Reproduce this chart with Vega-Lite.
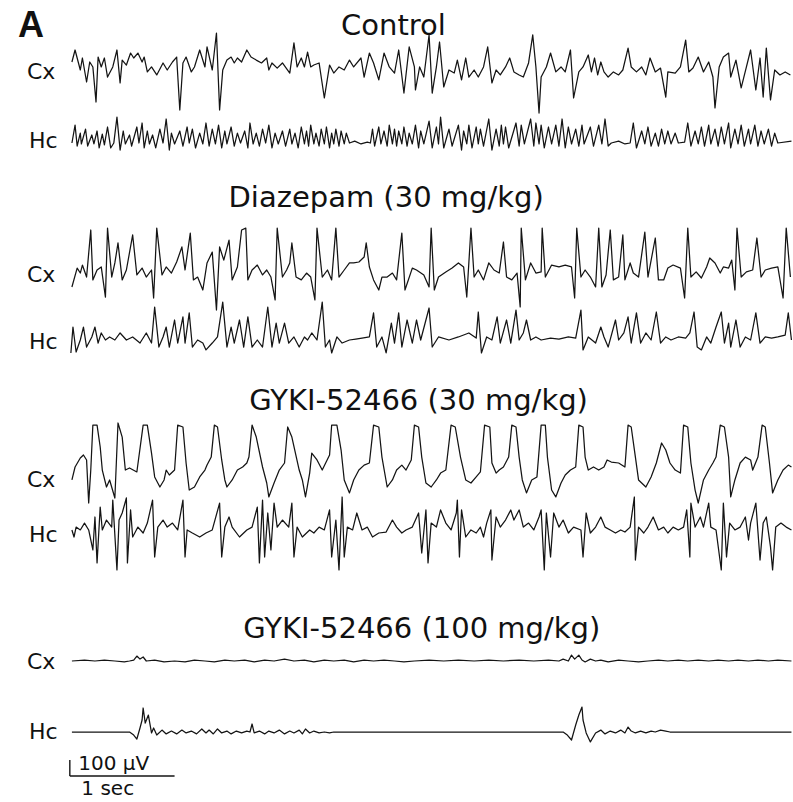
{
  "$schema": "https://vega.github.io/schema/vega-lite/v6.json",
  "width": 793,
  "height": 802,
  "autosize": {"type": "fit", "contains": "padding"},
  "padding": 0,
  "background": "white",
  "config": {
    "view": {"stroke": null},
    "line": {"color": "#141414", "strokeWidth": 1.25, "strokeJoin": "round", "clip": false},
    "text": {"font": "DejaVu Sans", "color": "#111111"},
    "rule": {"color": "#141414", "strokeWidth": 1.4}
  },
  "datasets": {
    "control_cx": [
      {"t":0.02,"v":50},{"t":0.05,"v":125},{"t":0.1,"v":0},{"t":0.12,"v":75},{"t":0.16,"v":-75},{"t":0.19,"v":50},{"t":0.22,"v":19},{"t":0.25,"v":-200},{"t":0.27,"v":81},{"t":0.3,"v":19},
      {"t":0.33,"v":75},{"t":0.36,"v":-44},{"t":0.41,"v":19},{"t":0.45,"v":125},{"t":0.48,"v":-81},{"t":0.5,"v":62},{"t":0.54,"v":31},{"t":0.58,"v":106},{"t":0.61,"v":75},{"t":0.65,"v":106},
      {"t":0.69,"v":50},{"t":0.71,"v":81},{"t":0.74,"v":-12},{"t":0.78,"v":19},{"t":0.83,"v":-31},{"t":0.89,"v":44},{"t":0.93,"v":0},{"t":0.98,"v":50},{"t":1.02,"v":81},{"t":1.05,"v":-250},
      {"t":1.08,"v":44},{"t":1.11,"v":81},{"t":1.16,"v":-12},{"t":1.19,"v":19},{"t":1.24,"v":125},{"t":1.29,"v":19},{"t":1.31,"v":144},{"t":1.36,"v":0},{"t":1.4,"v":231},{"t":1.43,"v":-250},
      {"t":1.46,"v":0},{"t":1.5,"v":62},{"t":1.54,"v":81},{"t":1.57,"v":44},{"t":1.6,"v":75},{"t":1.64,"v":50},{"t":1.69,"v":125},{"t":1.73,"v":81},{"t":1.78,"v":62},{"t":1.83,"v":44},
      {"t":1.88,"v":75},{"t":1.9,"v":0},{"t":1.93,"v":44},{"t":1.98,"v":12},{"t":2.03,"v":44},{"t":2.1,"v":-19},{"t":2.14,"v":169},{"t":2.17,"v":19},{"t":2.21,"v":75},{"t":2.24,"v":19},
      {"t":2.27,"v":112},{"t":2.3,"v":19},{"t":2.33,"v":31},{"t":2.38,"v":44},{"t":2.43,"v":-175},{"t":2.48,"v":31},{"t":2.52,"v":-19},{"t":2.57,"v":19},{"t":2.62,"v":0},{"t":2.67,"v":62},
      {"t":2.71,"v":19},{"t":2.78,"v":75},{"t":2.81,"v":-44},{"t":2.86,"v":106},{"t":2.9,"v":44},{"t":2.95,"v":-62},{"t":3.0,"v":106},{"t":3.05,"v":19},{"t":3.1,"v":-19},{"t":3.14,"v":125},
      {"t":3.19,"v":-144},{"t":3.24,"v":144},{"t":3.29,"v":19},{"t":3.3,"v":-125},{"t":3.34,"v":19},{"t":3.38,"v":-44},{"t":3.43,"v":219},{"t":3.46,"v":-144},{"t":3.5,"v":19},{"t":3.53,"v":175},
      {"t":3.57,"v":-106},{"t":3.62,"v":0},{"t":3.67,"v":-19},{"t":3.7,"v":62},{"t":3.74,"v":-62},{"t":3.78,"v":75},{"t":3.81,"v":-44},{"t":3.86,"v":0},{"t":3.9,"v":-44},{"t":3.95,"v":19},
      {"t":3.99,"v":144},{"t":4.03,"v":-81},{"t":4.07,"v":0},{"t":4.11,"v":-31},{"t":4.16,"v":19},{"t":4.2,"v":75},{"t":4.24,"v":-12},{"t":4.29,"v":-31},{"t":4.33,"v":-44},{"t":4.38,"v":44},
      {"t":4.42,"v":219},{"t":4.45,"v":19},{"t":4.48,"v":-269},{"t":4.5,"v":-44},{"t":4.55,"v":19},{"t":4.59,"v":106},{"t":4.64,"v":-12},{"t":4.69,"v":19},{"t":4.73,"v":-12},{"t":4.78,"v":125},
      {"t":4.81,"v":-175},{"t":4.86,"v":-12},{"t":4.9,"v":19},{"t":4.95,"v":94},{"t":4.98,"v":-12},{"t":5.01,"v":75},{"t":5.04,"v":-31},{"t":5.07,"v":50},{"t":5.1,"v":-12},{"t":5.14,"v":-44},
      {"t":5.19,"v":-12},{"t":5.24,"v":-31},{"t":5.28,"v":0},{"t":5.33,"v":137},{"t":5.36,"v":19},{"t":5.41,"v":-12},{"t":5.46,"v":19},{"t":5.5,"v":-31},{"t":5.54,"v":75},{"t":5.59,"v":-12},
      {"t":5.64,"v":12},{"t":5.69,"v":-169},{"t":5.71,"v":-12},{"t":5.78,"v":-19},{"t":5.83,"v":19},{"t":5.88,"v":187},{"t":5.91,"v":-12},{"t":5.95,"v":12},{"t":6.0,"v":81},{"t":6.05,"v":-12},
      {"t":6.1,"v":50},{"t":6.14,"v":-44},{"t":6.16,"v":-237},{"t":6.2,"v":19},{"t":6.24,"v":81},{"t":6.29,"v":106},{"t":6.31,"v":-44},{"t":6.36,"v":62},{"t":6.41,"v":-112},{"t":6.46,"v":19},
      {"t":6.5,"v":125},{"t":6.55,"v":-125},{"t":6.59,"v":75},{"t":6.62,"v":-169},{"t":6.65,"v":137},{"t":6.69,"v":-187},{"t":6.73,"v":0},{"t":6.78,"v":-31},{"t":6.83,"v":-12},{"t":6.88,"v":-31}
    ],
    "control_hc": [
      {"t":0.02,"v":0},{"t":0.05,"v":112},{"t":0.07,"v":-19},{"t":0.1,"v":62},{"t":0.11,"v":-6},{"t":0.15,"v":87},{"t":0.17,"v":-19},{"t":0.21,"v":50},{"t":0.23,"v":-6},{"t":0.26,"v":75},
      {"t":0.28,"v":-31},{"t":0.31,"v":56},{"t":0.33,"v":-12},{"t":0.36,"v":100},{"t":0.39,"v":-31},{"t":0.42,"v":0},{"t":0.45,"v":162},{"t":0.48,"v":-44},{"t":0.51,"v":75},{"t":0.53,"v":-6},
      {"t":0.57,"v":50},{"t":0.59,"v":-19},{"t":0.64,"v":100},{"t":0.66,"v":0},{"t":0.69,"v":125},{"t":0.71,"v":-31},{"t":0.74,"v":75},{"t":0.76,"v":-6},{"t":0.79,"v":50},{"t":0.82,"v":-31},
      {"t":0.86,"v":87},{"t":0.89,"v":0},{"t":0.92,"v":150},{"t":0.95,"v":-44},{"t":0.97,"v":62},{"t":1.0,"v":-6},{"t":1.05,"v":75},{"t":1.08,"v":-19},{"t":1.12,"v":100},{"t":1.14,"v":0},
      {"t":1.17,"v":87},{"t":1.2,"v":-31},{"t":1.24,"v":62},{"t":1.27,"v":-6},{"t":1.3,"v":125},{"t":1.33,"v":-19},{"t":1.36,"v":87},{"t":1.39,"v":-6},{"t":1.42,"v":112},{"t":1.45,"v":-31},
      {"t":1.48,"v":75},{"t":1.5,"v":-6},{"t":1.54,"v":100},{"t":1.57,"v":-19},{"t":1.6,"v":62},{"t":1.63,"v":0},{"t":1.67,"v":75},{"t":1.7,"v":-31},{"t":1.72,"v":125},{"t":1.75,"v":-6},
      {"t":1.78,"v":62},{"t":1.81,"v":-19},{"t":1.84,"v":87},{"t":1.87,"v":0},{"t":1.9,"v":112},{"t":1.93,"v":-31},{"t":1.96,"v":62},{"t":1.99,"v":-6},{"t":2.03,"v":75},{"t":2.06,"v":-19},
      {"t":2.1,"v":87},{"t":2.12,"v":-6},{"t":2.15,"v":62},{"t":2.18,"v":-31},{"t":2.21,"v":100},{"t":2.24,"v":-6},{"t":2.26,"v":75},{"t":2.28,"v":-19},{"t":2.3,"v":112},{"t":2.33,"v":-6},
      {"t":2.35,"v":62},{"t":2.38,"v":-19},{"t":2.4,"v":87},{"t":2.43,"v":-6},{"t":2.45,"v":100},{"t":2.48,"v":-31},{"t":2.5,"v":62},{"t":2.52,"v":-6},{"t":2.54,"v":87},{"t":2.57,"v":-19},
      {"t":2.59,"v":75},{"t":2.62,"v":-6},{"t":2.64,"v":62},{"t":2.67,"v":0},{"t":2.72,"v":12},{"t":2.78,"v":-6},{"t":2.84,"v":6},{"t":2.87,"v":0},{"t":2.89,"v":87},{"t":2.91,"v":-19},
      {"t":2.95,"v":100},{"t":2.97,"v":-6},{"t":3.0,"v":75},{"t":3.03,"v":-19},{"t":3.05,"v":112},{"t":3.08,"v":-6},{"t":3.1,"v":87},{"t":3.12,"v":-19},{"t":3.14,"v":75},{"t":3.17,"v":-6},
      {"t":3.19,"v":100},{"t":3.22,"v":-19},{"t":3.24,"v":62},{"t":3.27,"v":-6},{"t":3.3,"v":112},{"t":3.33,"v":-31},{"t":3.35,"v":75},{"t":3.38,"v":-6},{"t":3.43,"v":137},{"t":3.46,"v":-31},
      {"t":3.5,"v":100},{"t":3.52,"v":-6},{"t":3.54,"v":162},{"t":3.57,"v":-31},{"t":3.62,"v":87},{"t":3.65,"v":-19},{"t":3.71,"v":112},{"t":3.74,"v":-44},{"t":3.76,"v":75},{"t":3.79,"v":-6},
      {"t":3.81,"v":112},{"t":3.84,"v":-31},{"t":3.88,"v":100},{"t":3.9,"v":-6},{"t":3.92,"v":87},{"t":3.95,"v":-19},{"t":4.0,"v":150},{"t":4.03,"v":-44},{"t":4.07,"v":87},{"t":4.1,"v":-19},
      {"t":4.12,"v":112},{"t":4.14,"v":-6},{"t":4.16,"v":100},{"t":4.19,"v":-31},{"t":4.26,"v":125},{"t":4.29,"v":-19},{"t":4.31,"v":112},{"t":4.34,"v":-6},{"t":4.4,"v":150},{"t":4.43,"v":-19},
      {"t":4.45,"v":125},{"t":4.48,"v":-6},{"t":4.5,"v":112},{"t":4.53,"v":-31},{"t":4.57,"v":100},{"t":4.6,"v":-6},{"t":4.64,"v":112},{"t":4.67,"v":-19},{"t":4.7,"v":150},{"t":4.73,"v":-31},
      {"t":4.76,"v":100},{"t":4.79,"v":-6},{"t":4.83,"v":87},{"t":4.86,"v":-19},{"t":4.89,"v":112},{"t":4.91,"v":-6},{"t":4.97,"v":100},{"t":5.0,"v":-19},{"t":5.05,"v":112},{"t":5.08,"v":-6},
      {"t":5.11,"v":150},{"t":5.14,"v":-19},{"t":5.17,"v":0},{"t":5.24,"v":12},{"t":5.3,"v":-6},{"t":5.35,"v":0},{"t":5.38,"v":125},{"t":5.41,"v":-31},{"t":5.46,"v":75},{"t":5.49,"v":-6},
      {"t":5.52,"v":100},{"t":5.55,"v":-19},{"t":5.59,"v":62},{"t":5.62,"v":-19},{"t":5.65,"v":87},{"t":5.68,"v":-6},{"t":5.71,"v":75},{"t":5.74,"v":-6},{"t":5.78,"v":62},{"t":5.81,"v":0},
      {"t":5.87,"v":6},{"t":5.9,"v":125},{"t":5.93,"v":-19},{"t":5.97,"v":75},{"t":6.0,"v":-6},{"t":6.03,"v":100},{"t":6.06,"v":-19},{"t":6.1,"v":112},{"t":6.12,"v":-6},{"t":6.16,"v":87},
      {"t":6.19,"v":-19},{"t":6.22,"v":100},{"t":6.25,"v":-6},{"t":6.29,"v":125},{"t":6.31,"v":-31},{"t":6.35,"v":87},{"t":6.38,"v":-6},{"t":6.41,"v":112},{"t":6.44,"v":-19},{"t":6.48,"v":87},
      {"t":6.5,"v":-6},{"t":6.54,"v":112},{"t":6.57,"v":-19},{"t":6.6,"v":75},{"t":6.63,"v":-6},{"t":6.67,"v":87},{"t":6.7,"v":-19},{"t":6.73,"v":62},{"t":6.76,"v":0},{"t":6.89,"v":12}
    ],
    "diazepam_cx": [
      {"t":0.02,"v":-106},{"t":0.07,"v":12},{"t":0.1,"v":-19},{"t":0.12,"v":31},{"t":0.16,"v":-44},{"t":0.2,"v":250},{"t":0.22,"v":-62},{"t":0.26,"v":0},{"t":0.3,"v":19},{"t":0.34,"v":-169},
      {"t":0.36,"v":262},{"t":0.4,"v":-44},{"t":0.43,"v":44},{"t":0.46,"v":169},{"t":0.5,"v":-62},{"t":0.54,"v":0},{"t":0.6,"v":219},{"t":0.64,"v":-31},{"t":0.69,"v":12},{"t":0.73,"v":-44},
      {"t":0.78,"v":0},{"t":0.8,"v":-175},{"t":0.83,"v":262},{"t":0.88,"v":-31},{"t":0.92,"v":19},{"t":0.97,"v":-19},{"t":1.02,"v":50},{"t":1.07,"v":144},{"t":1.1,"v":0},{"t":1.15,"v":231},
      {"t":1.18,"v":-62},{"t":1.22,"v":-44},{"t":1.27,"v":-125},{"t":1.31,"v":44},{"t":1.36,"v":112},{"t":1.4,"v":-250},{"t":1.43,"v":144},{"t":1.47,"v":62},{"t":1.52,"v":187},{"t":1.55,"v":-62},
      {"t":1.6,"v":19},{"t":1.64,"v":250},{"t":1.68,"v":262},{"t":1.7,"v":-62},{"t":1.74,"v":0},{"t":1.79,"v":31},{"t":1.84,"v":-31},{"t":1.88,"v":0},{"t":1.92,"v":-44},{"t":1.96,"v":-187},
      {"t":1.98,"v":262},{"t":2.03,"v":-44},{"t":2.07,"v":0},{"t":2.1,"v":44},{"t":2.12,"v":169},{"t":2.16,"v":-44},{"t":2.21,"v":-62},{"t":2.26,"v":-19},{"t":2.3,"v":-44},{"t":2.34,"v":-187},
      {"t":2.36,"v":262},{"t":2.41,"v":-44},{"t":2.46,"v":0},{"t":2.5,"v":-62},{"t":2.54,"v":262},{"t":2.57,"v":-44},{"t":2.62,"v":0},{"t":2.67,"v":44},{"t":2.71,"v":44},{"t":2.76,"v":50},
      {"t":2.81,"v":81},{"t":2.83,"v":169},{"t":2.86,"v":19},{"t":2.9,"v":-62},{"t":2.95,"v":-125},{"t":2.98,"v":-44},{"t":3.03,"v":-44},{"t":3.08,"v":-19},{"t":3.12,"v":-62},{"t":3.17,"v":231},
      {"t":3.2,"v":-125},{"t":3.27,"v":12},{"t":3.31,"v":0},{"t":3.38,"v":-31},{"t":3.43,"v":-106},{"t":3.45,"v":262},{"t":3.48,"v":-125},{"t":3.52,"v":-44},{"t":3.59,"v":-12},{"t":3.65,"v":12},
      {"t":3.71,"v":44},{"t":3.76,"v":19},{"t":3.79,"v":-169},{"t":3.83,"v":262},{"t":3.86,"v":-44},{"t":3.9,"v":0},{"t":3.95,"v":-62},{"t":4.0,"v":44},{"t":4.05,"v":0},{"t":4.1,"v":-19},
      {"t":4.14,"v":175},{"t":4.17,"v":-44},{"t":4.22,"v":-62},{"t":4.27,"v":-19},{"t":4.3,"v":-231},{"t":4.31,"v":262},{"t":4.35,"v":-62},{"t":4.4,"v":44},{"t":4.45,"v":-19},{"t":4.5,"v":-12},
      {"t":4.51,"v":262},{"t":4.54,"v":-44},{"t":4.6,"v":31},{"t":4.67,"v":19},{"t":4.73,"v":31},{"t":4.79,"v":19},{"t":4.82,"v":-175},{"t":4.84,"v":262},{"t":4.88,"v":-44},{"t":4.92,"v":0},
      {"t":4.97,"v":-44},{"t":5.02,"v":-106},{"t":5.05,"v":262},{"t":5.08,"v":-106},{"t":5.12,"v":-31},{"t":5.16,"v":250},{"t":5.19,"v":-62},{"t":5.24,"v":-44},{"t":5.28,"v":219},{"t":5.3,"v":-62},
      {"t":5.35,"v":44},{"t":5.38,"v":-19},{"t":5.43,"v":-44},{"t":5.49,"v":237},{"t":5.52,"v":-44},{"t":5.59,"v":200},{"t":5.62,"v":-62},{"t":5.67,"v":-62},{"t":5.71,"v":12},{"t":5.76,"v":31},
      {"t":5.83,"v":12},{"t":5.87,"v":-175},{"t":5.9,"v":262},{"t":5.93,"v":-44},{"t":5.98,"v":-12},{"t":6.03,"v":-50},{"t":6.08,"v":19},{"t":6.11,"v":75},{"t":6.16,"v":44},{"t":6.21,"v":-19},
      {"t":6.24,"v":19},{"t":6.29,"v":12},{"t":6.32,"v":62},{"t":6.35,"v":-125},{"t":6.37,"v":262},{"t":6.41,"v":-44},{"t":6.46,"v":-12},{"t":6.52,"v":0},{"t":6.56,"v":200},{"t":6.6,"v":-44},
      {"t":6.64,"v":0},{"t":6.7,"v":12},{"t":6.76,"v":19},{"t":6.81,"v":-175},{"t":6.84,"v":262},{"t":6.88,"v":-44}
    ],
    "diazepam_hc": [
      {"t":0.01,"v":-81},{"t":0.03,"v":81},{"t":0.06,"v":-75},{"t":0.1,"v":0},{"t":0.13,"v":81},{"t":0.16,"v":-44},{"t":0.21,"v":19},{"t":0.24,"v":81},{"t":0.27,"v":-19},{"t":0.3,"v":44},
      {"t":0.34,"v":0},{"t":0.38,"v":19},{"t":0.43,"v":0},{"t":0.48,"v":44},{"t":0.54,"v":0},{"t":0.6,"v":19},{"t":0.67,"v":-19},{"t":0.73,"v":44},{"t":0.78,"v":-19},{"t":0.81,"v":206},
      {"t":0.85,"v":-44},{"t":0.89,"v":19},{"t":0.92,"v":81},{"t":0.95,"v":-44},{"t":1.0,"v":125},{"t":1.03,"v":-19},{"t":1.08,"v":144},{"t":1.1,"v":-19},{"t":1.14,"v":169},{"t":1.17,"v":-44},
      {"t":1.22,"v":0},{"t":1.27,"v":-19},{"t":1.3,"v":-62},{"t":1.36,"v":-19},{"t":1.41,"v":19},{"t":1.46,"v":237},{"t":1.5,"v":-44},{"t":1.54,"v":81},{"t":1.57,"v":-19},{"t":1.62,"v":125},
      {"t":1.66,"v":-44},{"t":1.7,"v":144},{"t":1.74,"v":-44},{"t":1.79,"v":0},{"t":1.84,"v":-44},{"t":1.89,"v":206},{"t":1.93,"v":-44},{"t":1.97,"v":106},{"t":2.0,"v":-19},{"t":2.05,"v":106},
      {"t":2.09,"v":-19},{"t":2.14,"v":19},{"t":2.19,"v":-44},{"t":2.24,"v":19},{"t":2.27,"v":0},{"t":2.31,"v":44},{"t":2.36,"v":0},{"t":2.41,"v":237},{"t":2.44,"v":-44},{"t":2.48,"v":0},
      {"t":2.5,"v":-81},{"t":2.55,"v":19},{"t":2.6,"v":-19},{"t":2.67,"v":0},{"t":2.73,"v":6},{"t":2.79,"v":12},{"t":2.86,"v":19},{"t":2.9,"v":169},{"t":2.93,"v":-44},{"t":2.98,"v":19},
      {"t":3.02,"v":-81},{"t":3.07,"v":106},{"t":3.1,"v":-19},{"t":3.14,"v":169},{"t":3.17,"v":-44},{"t":3.22,"v":125},{"t":3.27,"v":-19},{"t":3.31,"v":125},{"t":3.35,"v":0},{"t":3.43,"v":200},
      {"t":3.46,"v":-44},{"t":3.52,"v":19},{"t":3.62,"v":0},{"t":3.71,"v":19},{"t":3.81,"v":44},{"t":3.88,"v":12},{"t":3.9,"v":175},{"t":3.93,"v":-81},{"t":3.98,"v":19},{"t":4.03,"v":0},
      {"t":4.08,"v":144},{"t":4.11,"v":-19},{"t":4.17,"v":125},{"t":4.21,"v":-19},{"t":4.26,"v":187},{"t":4.29,"v":0},{"t":4.33,"v":44},{"t":4.36,"v":125},{"t":4.4,"v":0},{"t":4.45,"v":19},
      {"t":4.5,"v":0},{"t":4.59,"v":12},{"t":4.67,"v":6},{"t":4.76,"v":19},{"t":4.83,"v":12},{"t":4.88,"v":187},{"t":4.9,"v":-62},{"t":4.95,"v":19},{"t":5.02,"v":-19},{"t":5.07,"v":81},
      {"t":5.1,"v":19},{"t":5.14,"v":-44},{"t":5.21,"v":125},{"t":5.24,"v":0},{"t":5.29,"v":44},{"t":5.33,"v":144},{"t":5.36,"v":-19},{"t":5.41,"v":169},{"t":5.45,"v":-19},{"t":5.5,"v":44},
      {"t":5.55,"v":0},{"t":5.6,"v":175},{"t":5.64,"v":-19},{"t":5.69,"v":19},{"t":5.74,"v":0},{"t":5.81,"v":19},{"t":5.88,"v":12},{"t":5.92,"v":44},{"t":5.96,"v":175},{"t":5.99,"v":-44},
      {"t":6.03,"v":-62},{"t":6.08,"v":19},{"t":6.12,"v":-19},{"t":6.17,"v":81},{"t":6.22,"v":175},{"t":6.25,"v":-19},{"t":6.29,"v":106},{"t":6.31,"v":-44},{"t":6.36,"v":125},{"t":6.4,"v":-44},
      {"t":6.45,"v":19},{"t":6.5,"v":0},{"t":6.55,"v":169},{"t":6.59,"v":-19},{"t":6.64,"v":19},{"t":6.7,"v":12},{"t":6.76,"v":19},{"t":6.83,"v":31},{"t":6.86,"v":169},{"t":6.89,"v":0}
    ],
    "gyki30_cx": [
      {"t":0.02,"v":-31},{"t":0.05,"v":50},{"t":0.1,"v":106},{"t":0.13,"v":125},{"t":0.16,"v":94},{"t":0.18,"v":-175},{"t":0.2,"v":31},{"t":0.22,"v":312},{"t":0.26,"v":312},{"t":0.29,"v":175},
      {"t":0.31,"v":31},{"t":0.35,"v":-75},{"t":0.38,"v":-31},{"t":0.43,"v":-144},{"t":0.46,"v":325},{"t":0.5,"v":237},{"t":0.53,"v":31},{"t":0.57,"v":44},{"t":0.64,"v":19},{"t":0.7,"v":312},
      {"t":0.74,"v":312},{"t":0.78,"v":137},{"t":0.81,"v":-12},{"t":0.86,"v":-75},{"t":0.9,"v":-31},{"t":0.92,"v":31},{"t":0.95,"v":0},{"t":1.0,"v":31},{"t":1.03,"v":312},{"t":1.08,"v":300},
      {"t":1.11,"v":75},{"t":1.14,"v":-94},{"t":1.19,"v":-75},{"t":1.24,"v":-12},{"t":1.29,"v":31},{"t":1.31,"v":62},{"t":1.35,"v":112},{"t":1.38,"v":312},{"t":1.41,"v":300},{"t":1.45,"v":94},
      {"t":1.48,"v":-31},{"t":1.5,"v":-75},{"t":1.55,"v":-31},{"t":1.6,"v":31},{"t":1.65,"v":50},{"t":1.69,"v":75},{"t":1.71,"v":112},{"t":1.74,"v":312},{"t":1.78,"v":237},{"t":1.84,"v":50},
      {"t":1.88,"v":-50},{"t":1.9,"v":-137},{"t":1.95,"v":-50},{"t":2.0,"v":31},{"t":2.05,"v":75},{"t":2.08,"v":300},{"t":2.12,"v":237},{"t":2.19,"v":31},{"t":2.22,"v":-31},{"t":2.25,"v":-137},
      {"t":2.29,"v":12},{"t":2.31,"v":137},{"t":2.36,"v":94},{"t":2.41,"v":31},{"t":2.48,"v":125},{"t":2.5,"v":312},{"t":2.55,"v":312},{"t":2.59,"v":156},{"t":2.62,"v":-31},{"t":2.67,"v":-112},
      {"t":2.71,"v":-31},{"t":2.76,"v":31},{"t":2.81,"v":62},{"t":2.86,"v":75},{"t":2.9,"v":312},{"t":2.95,"v":300},{"t":2.98,"v":112},{"t":3.03,"v":-75},{"t":3.08,"v":-31},{"t":3.12,"v":31},
      {"t":3.17,"v":62},{"t":3.21,"v":31},{"t":3.26,"v":94},{"t":3.29,"v":312},{"t":3.33,"v":300},{"t":3.36,"v":112},{"t":3.4,"v":-50},{"t":3.45,"v":-75},{"t":3.5,"v":-31},{"t":3.54,"v":12},
      {"t":3.59,"v":31},{"t":3.64,"v":312},{"t":3.68,"v":300},{"t":3.73,"v":112},{"t":3.78,"v":-31},{"t":3.83,"v":-50},{"t":3.88,"v":-12},{"t":3.92,"v":19},{"t":3.96,"v":312},{"t":4.01,"v":300},
      {"t":4.03,"v":75},{"t":4.07,"v":12},{"t":4.1,"v":31},{"t":4.14,"v":50},{"t":4.19,"v":112},{"t":4.22,"v":312},{"t":4.26,"v":300},{"t":4.29,"v":112},{"t":4.32,"v":-31},{"t":4.36,"v":-112},
      {"t":4.41,"v":-31},{"t":4.46,"v":-12},{"t":4.5,"v":312},{"t":4.54,"v":312},{"t":4.56,"v":112},{"t":4.6,"v":-94},{"t":4.64,"v":-137},{"t":4.69,"v":-50},{"t":4.73,"v":0},{"t":4.78,"v":31},
      {"t":4.83,"v":50},{"t":4.86,"v":312},{"t":4.9,"v":300},{"t":4.92,"v":112},{"t":4.95,"v":31},{"t":5.0,"v":50},{"t":5.05,"v":31},{"t":5.1,"v":50},{"t":5.13,"v":94},{"t":5.17,"v":81},
      {"t":5.24,"v":75},{"t":5.3,"v":50},{"t":5.33,"v":312},{"t":5.36,"v":300},{"t":5.4,"v":112},{"t":5.43,"v":-31},{"t":5.5,"v":-75},{"t":5.55,"v":-12},{"t":5.6,"v":75},{"t":5.65,"v":200},
      {"t":5.69,"v":156},{"t":5.73,"v":75},{"t":5.78,"v":31},{"t":5.83,"v":12},{"t":5.86,"v":312},{"t":5.9,"v":300},{"t":5.93,"v":75},{"t":5.97,"v":-94},{"t":6.0,"v":-175},{"t":6.05,"v":-31},
      {"t":6.1,"v":31},{"t":6.14,"v":75},{"t":6.17,"v":112},{"t":6.21,"v":312},{"t":6.25,"v":300},{"t":6.29,"v":112},{"t":6.31,"v":-137},{"t":6.35,"v":-31},{"t":6.4,"v":75},{"t":6.45,"v":112},
      {"t":6.5,"v":94},{"t":6.52,"v":31},{"t":6.57,"v":112},{"t":6.61,"v":312},{"t":6.64,"v":300},{"t":6.68,"v":75},{"t":6.71,"v":-112},{"t":6.76,"v":-31},{"t":6.81,"v":31},{"t":6.86,"v":62},
      {"t":6.89,"v":50}
    ],
    "gyki30_hc": [
      {"t":0.02,"v":19},{"t":0.04,"v":-25},{"t":0.06,"v":37},{"t":0.1,"v":19},{"t":0.14,"v":62},{"t":0.18,"v":19},{"t":0.22,"v":-106},{"t":0.24,"v":100},{"t":0.26,"v":-187},{"t":0.29,"v":162},
      {"t":0.31,"v":19},{"t":0.35,"v":81},{"t":0.4,"v":37},{"t":0.41,"v":206},{"t":0.45,"v":-231},{"t":0.47,"v":81},{"t":0.5,"v":125},{"t":0.54,"v":219},{"t":0.55,"v":-187},{"t":0.58,"v":144},
      {"t":0.6,"v":-25},{"t":0.65,"v":37},{"t":0.7,"v":0},{"t":0.74,"v":62},{"t":0.79,"v":206},{"t":0.81,"v":-150},{"t":0.84,"v":37},{"t":0.89,"v":81},{"t":0.93,"v":37},{"t":0.98,"v":62},
      {"t":1.03,"v":19},{"t":1.08,"v":206},{"t":1.1,"v":-150},{"t":1.12,"v":19},{"t":1.17,"v":0},{"t":1.24,"v":-25},{"t":1.3,"v":0},{"t":1.36,"v":19},{"t":1.43,"v":187},{"t":1.45,"v":-150},
      {"t":1.48,"v":37},{"t":1.52,"v":100},{"t":1.55,"v":37},{"t":1.62,"v":-25},{"t":1.69,"v":19},{"t":1.74,"v":37},{"t":1.79,"v":162},{"t":1.81,"v":-187},{"t":1.84,"v":206},{"t":1.86,"v":-150},
      {"t":1.89,"v":125},{"t":1.92,"v":-106},{"t":1.95,"v":187},{"t":1.98,"v":37},{"t":2.03,"v":81},{"t":2.09,"v":37},{"t":2.12,"v":187},{"t":2.14,"v":-150},{"t":2.17,"v":37},{"t":2.22,"v":-25},
      {"t":2.29,"v":19},{"t":2.33,"v":0},{"t":2.38,"v":37},{"t":2.43,"v":19},{"t":2.48,"v":144},{"t":2.5,"v":-150},{"t":2.54,"v":81},{"t":2.57,"v":-231},{"t":2.6,"v":225},{"t":2.62,"v":-150},
      {"t":2.65,"v":37},{"t":2.7,"v":19},{"t":2.74,"v":125},{"t":2.79,"v":19},{"t":2.84,"v":37},{"t":2.89,"v":-25},{"t":2.95,"v":0},{"t":3.02,"v":6},{"t":3.08,"v":81},{"t":3.12,"v":37},
      {"t":3.17,"v":0},{"t":3.21,"v":19},{"t":3.27,"v":37},{"t":3.33,"v":125},{"t":3.36,"v":-125},{"t":3.4,"v":144},{"t":3.42,"v":-187},{"t":3.45,"v":62},{"t":3.5,"v":37},{"t":3.54,"v":144},
      {"t":3.59,"v":62},{"t":3.64,"v":19},{"t":3.69,"v":125},{"t":3.7,"v":206},{"t":3.72,"v":-150},{"t":3.74,"v":144},{"t":3.78,"v":-25},{"t":3.83,"v":19},{"t":3.88,"v":0},{"t":3.92,"v":37},
      {"t":3.95,"v":-25},{"t":3.98,"v":62},{"t":4.02,"v":144},{"t":4.03,"v":-169},{"t":4.07,"v":100},{"t":4.11,"v":37},{"t":4.16,"v":81},{"t":4.21,"v":144},{"t":4.24,"v":81},{"t":4.29,"v":144},
      {"t":4.33,"v":37},{"t":4.38,"v":62},{"t":4.43,"v":19},{"t":4.48,"v":100},{"t":4.5,"v":144},{"t":4.53,"v":-231},{"t":4.55,"v":125},{"t":4.59,"v":-150},{"t":4.62,"v":125},{"t":4.67,"v":37},
      {"t":4.71,"v":81},{"t":4.76,"v":0},{"t":4.81,"v":37},{"t":4.88,"v":19},{"t":4.9,"v":-150},{"t":4.93,"v":125},{"t":4.97,"v":0},{"t":5.02,"v":37},{"t":5.07,"v":100},{"t":5.11,"v":37},
      {"t":5.16,"v":19},{"t":5.21,"v":0},{"t":5.26,"v":19},{"t":5.3,"v":6},{"t":5.35,"v":37},{"t":5.39,"v":225},{"t":5.4,"v":-169},{"t":5.43,"v":37},{"t":5.48,"v":0},{"t":5.52,"v":37},
      {"t":5.57,"v":100},{"t":5.62,"v":19},{"t":5.67,"v":37},{"t":5.71,"v":0},{"t":5.76,"v":37},{"t":5.81,"v":19},{"t":5.86,"v":37},{"t":5.89,"v":144},{"t":5.92,"v":-150},{"t":5.93,"v":187},
      {"t":5.97,"v":37},{"t":6.02,"v":100},{"t":6.05,"v":37},{"t":6.1,"v":187},{"t":6.12,"v":37},{"t":6.17,"v":19},{"t":6.22,"v":-231},{"t":6.24,"v":187},{"t":6.27,"v":-150},{"t":6.3,"v":62},
      {"t":6.35,"v":19},{"t":6.4,"v":37},{"t":6.45,"v":100},{"t":6.48,"v":-44},{"t":6.5,"v":62},{"t":6.55,"v":187},{"t":6.59,"v":-169},{"t":6.62,"v":62},{"t":6.65,"v":100},{"t":6.69,"v":-87},
      {"t":6.71,"v":-231},{"t":6.74,"v":37},{"t":6.79,"v":62},{"t":6.84,"v":37},{"t":6.89,"v":19}
    ],
    "gyki100_cx": [
      {"t":0.02,"v":0},{"t":0.14,"v":6},{"t":0.24,"v":0},{"t":0.33,"v":6},{"t":0.43,"v":0},{"t":0.52,"v":-6},{"t":0.57,"v":0},{"t":0.61,"v":6},{"t":0.64,"v":31},{"t":0.67,"v":12},
      {"t":0.7,"v":25},{"t":0.73,"v":0},{"t":0.81,"v":6},{"t":0.9,"v":-6},{"t":1.0,"v":0},{"t":1.1,"v":-6},{"t":1.19,"v":6},{"t":1.29,"v":0},{"t":1.38,"v":-6},{"t":1.48,"v":6},
      {"t":1.57,"v":0},{"t":1.67,"v":6},{"t":1.76,"v":-6},{"t":1.86,"v":6},{"t":1.95,"v":0},{"t":2.05,"v":12},{"t":2.14,"v":0},{"t":2.24,"v":6},{"t":2.33,"v":-6},{"t":2.43,"v":6},
      {"t":2.52,"v":0},{"t":2.62,"v":6},{"t":2.71,"v":-6},{"t":2.81,"v":6},{"t":2.9,"v":0},{"t":3.0,"v":6},{"t":3.1,"v":0},{"t":3.19,"v":-6},{"t":3.29,"v":0},{"t":3.43,"v":6},
      {"t":3.57,"v":0},{"t":3.71,"v":6},{"t":3.86,"v":0},{"t":4.0,"v":6},{"t":4.14,"v":0},{"t":4.29,"v":6},{"t":4.43,"v":0},{"t":4.57,"v":6},{"t":4.67,"v":0},{"t":4.71,"v":12},
      {"t":4.76,"v":0},{"t":4.79,"v":37},{"t":4.82,"v":12},{"t":4.86,"v":37},{"t":4.89,"v":6},{"t":4.92,"v":-6},{"t":4.97,"v":12},{"t":5.02,"v":0},{"t":5.07,"v":6},{"t":5.14,"v":-6},
      {"t":5.24,"v":6},{"t":5.33,"v":0},{"t":5.43,"v":-6},{"t":5.52,"v":0},{"t":5.62,"v":6},{"t":5.71,"v":0},{"t":5.81,"v":6},{"t":5.9,"v":0},{"t":6.0,"v":6},{"t":6.1,"v":0},
      {"t":6.19,"v":6},{"t":6.29,"v":0},{"t":6.38,"v":6},{"t":6.48,"v":0},{"t":6.57,"v":6},{"t":6.67,"v":0},{"t":6.76,"v":6},{"t":6.89,"v":0}
    ],
    "gyki100_hc": [
      {"t":0.02,"v":0},{"t":0.57,"v":0},{"t":0.61,"v":-19},{"t":0.64,"v":-44},{"t":0.67,"v":25},{"t":0.69,"v":75},{"t":0.7,"v":150},{"t":0.72,"v":56},{"t":0.75,"v":106},{"t":0.78,"v":-6},
      {"t":0.8,"v":25},{"t":0.83,"v":-19},{"t":0.88,"v":12},{"t":0.92,"v":-12},{"t":0.97,"v":6},{"t":1.02,"v":-12},{"t":1.07,"v":12},{"t":1.11,"v":-6},{"t":1.16,"v":6},{"t":1.21,"v":-12},
      {"t":1.26,"v":19},{"t":1.3,"v":-6},{"t":1.33,"v":12},{"t":1.37,"v":-12},{"t":1.41,"v":19},{"t":1.45,"v":-6},{"t":1.5,"v":6},{"t":1.54,"v":-12},{"t":1.59,"v":6},{"t":1.64,"v":-6},
      {"t":1.69,"v":6},{"t":1.72,"v":0},{"t":1.74,"v":50},{"t":1.76,"v":-6},{"t":1.81,"v":6},{"t":1.86,"v":-12},{"t":1.9,"v":6},{"t":1.95,"v":-6},{"t":2.0,"v":12},{"t":2.05,"v":-12},
      {"t":2.1,"v":6},{"t":2.14,"v":-6},{"t":2.19,"v":12},{"t":2.22,"v":-12},{"t":2.25,"v":19},{"t":2.29,"v":-6},{"t":2.33,"v":6},{"t":2.38,"v":-6},{"t":2.43,"v":0},{"t":2.48,"v":-6},
      {"t":2.52,"v":0},{"t":2.57,"v":0},{"t":4.71,"v":0},{"t":4.75,"v":-19},{"t":4.79,"v":-50},{"t":4.83,"v":44},{"t":4.86,"v":106},{"t":4.89,"v":156},{"t":4.9,"v":75},{"t":4.93,"v":-6},
      {"t":4.97,"v":-62},{"t":5.02,"v":-6},{"t":5.07,"v":12},{"t":5.11,"v":-12},{"t":5.16,"v":6},{"t":5.21,"v":-6},{"t":5.26,"v":12},{"t":5.3,"v":-6},{"t":5.33,"v":31},{"t":5.36,"v":6},
      {"t":5.4,"v":-6},{"t":5.45,"v":6},{"t":5.5,"v":-6},{"t":5.55,"v":6},{"t":5.59,"v":0},{"t":5.64,"v":12},{"t":5.69,"v":6},{"t":5.73,"v":0},{"t":6.89,"v":0}
    ]
  },
  "layer": [
    {
      "layer": [
        {"data": {"name": "control_cx"}, "mark": "line",
         "encoding": {"x": {"field": "t", "type": "quantitative", "scale": {"domain": [-0.6667, 6.8857], "nice": false, "zero": false}, "axis": null},
                      "y": {"field": "v", "type": "quantitative", "scale": {"domain": [-4575, 437.5], "nice": false, "zero": false}, "axis": null},
                      "order": {"value": null}}},
        {"data": {"values": [{"label": "A"}]}, "mark": {"type": "text", "align": "left", "baseline": "alphabetic", "fontSize": 36, "fontWeight": "bold", "font": "Liberation Sans"},
         "encoding": {"x": {"datum": -0.495, "type": "quantitative", "scale": {"domain": [-0.6667, 6.8857], "nice": false, "zero": false}, "axis": null},
                      "y": {"datum": 206, "type": "quantitative", "scale": {"domain": [-4575, 437.5], "nice": false, "zero": false}, "axis": null},
                      "text": {"field": "label"}}},
        {"data": {"values": [{"label": "Control"}]}, "mark": {"type": "text", "align": "center", "baseline": "alphabetic", "fontSize": 29},
         "encoding": {"x": {"datum": 3.09, "type": "quantitative", "scale": {"domain": [-0.6667, 6.8857], "nice": false, "zero": false}, "axis": null},
                      "y": {"datum": 219, "type": "quantitative", "scale": {"domain": [-4575, 437.5], "nice": false, "zero": false}, "axis": null},
                      "text": {"field": "label"}}},
        {"data": {"values": [{"label": "Cx"}]}, "mark": {"type": "text", "align": "left", "baseline": "middle", "fontSize": 22},
         "encoding": {"x": {"datum": -0.41, "type": "quantitative", "scale": {"domain": [-0.6667, 6.8857], "nice": false, "zero": false}, "axis": null},
                      "y": {"datum": -12, "type": "quantitative", "scale": {"domain": [-4575, 437.5], "nice": false, "zero": false}, "axis": null},
                      "text": {"field": "label"}}}
      ]
    },
    {
      "layer": [
        {"data": {"name": "control_hc"}, "mark": "line",
         "encoding": {"x": {"field": "t", "type": "quantitative", "scale": {"domain": [-0.6667, 6.8857], "nice": false, "zero": false}, "axis": null},
                      "y": {"field": "v", "type": "quantitative", "scale": {"domain": [-4118.75, 893.75], "nice": false, "zero": false}, "axis": null},
                      "order": {"value": null}}},
        {"data": {"values": [{"label": "Hc"}]}, "mark": {"type": "text", "align": "left", "baseline": "middle", "fontSize": 22},
         "encoding": {"x": {"datum": -0.39, "type": "quantitative", "scale": {"domain": [-0.6667, 6.8857], "nice": false, "zero": false}, "axis": null},
                      "y": {"datum": 12, "type": "quantitative", "scale": {"domain": [-4118.75, 893.75], "nice": false, "zero": false}, "axis": null},
                      "text": {"field": "label"}}}
      ]
    },
    {
      "layer": [
        {"data": {"name": "diazepam_cx"}, "mark": "line",
         "encoding": {"x": {"field": "t", "type": "quantitative", "scale": {"domain": [-0.6667, 6.8857], "nice": false, "zero": false}, "axis": null},
                      "y": {"field": "v", "type": "quantitative", "scale": {"domain": [-3325, 1687.5], "nice": false, "zero": false}, "axis": null},
                      "order": {"value": null}}},
        {"data": {"values": [{"label": "Diazepam (30 mg/kg)"}]}, "mark": {"type": "text", "align": "center", "baseline": "alphabetic", "fontSize": 29},
         "encoding": {"x": {"datum": 3.02, "type": "quantitative", "scale": {"domain": [-0.6667, 6.8857], "nice": false, "zero": false}, "axis": null},
                      "y": {"datum": 394, "type": "quantitative", "scale": {"domain": [-3325, 1687.5], "nice": false, "zero": false}, "axis": null},
                      "text": {"field": "label"}}},
        {"data": {"values": [{"label": "Cx"}]}, "mark": {"type": "text", "align": "left", "baseline": "middle", "fontSize": 22},
         "encoding": {"x": {"datum": -0.41, "type": "quantitative", "scale": {"domain": [-0.6667, 6.8857], "nice": false, "zero": false}, "axis": null},
                      "y": {"datum": -31, "type": "quantitative", "scale": {"domain": [-3325, 1687.5], "nice": false, "zero": false}, "axis": null},
                      "text": {"field": "label"}}}
      ]
    },
    {
      "layer": [
        {"data": {"name": "diazepam_hc"}, "mark": "line",
         "encoding": {"x": {"field": "t", "type": "quantitative", "scale": {"domain": [-0.6667, 6.8857], "nice": false, "zero": false}, "axis": null},
                      "y": {"field": "v", "type": "quantitative", "scale": {"domain": [-2887.5, 2125], "nice": false, "zero": false}, "axis": null},
                      "order": {"value": null}}},
        {"data": {"values": [{"label": "Hc"}]}, "mark": {"type": "text", "align": "left", "baseline": "middle", "fontSize": 22},
         "encoding": {"x": {"datum": -0.39, "type": "quantitative", "scale": {"domain": [-0.6667, 6.8857], "nice": false, "zero": false}, "axis": null},
                      "y": {"datum": -12, "type": "quantitative", "scale": {"domain": [-2887.5, 2125], "nice": false, "zero": false}, "axis": null},
                      "text": {"field": "label"}}}
      ]
    },
    {
      "layer": [
        {"data": {"name": "gyki30_cx"}, "mark": "line",
         "encoding": {"x": {"field": "t", "type": "quantitative", "scale": {"domain": [-0.6667, 6.8857], "nice": false, "zero": false}, "axis": null},
                      "y": {"field": "v", "type": "quantitative", "scale": {"domain": [-2043.75, 2968.75], "nice": false, "zero": false}, "axis": null},
                      "order": {"value": null}}},
        {"data": {"values": [{"label": "GYKI-52466 (30 mg/kg)"}]}, "mark": {"type": "text", "align": "center", "baseline": "alphabetic", "fontSize": 29},
         "encoding": {"x": {"datum": 3.33, "type": "quantitative", "scale": {"domain": [-0.6667, 6.8857], "nice": false, "zero": false}, "axis": null},
                      "y": {"datum": 406, "type": "quantitative", "scale": {"domain": [-2043.75, 2968.75], "nice": false, "zero": false}, "axis": null},
                      "text": {"field": "label"}}},
        {"data": {"values": [{"label": "Cx"}]}, "mark": {"type": "text", "align": "left", "baseline": "middle", "fontSize": 22},
         "encoding": {"x": {"datum": -0.41, "type": "quantitative", "scale": {"domain": [-0.6667, 6.8857], "nice": false, "zero": false}, "axis": null},
                      "y": {"datum": -31, "type": "quantitative", "scale": {"domain": [-2043.75, 2968.75], "nice": false, "zero": false}, "axis": null},
                      "text": {"field": "label"}}}
      ]
    },
    {
      "layer": [
        {"data": {"name": "gyki30_hc"}, "mark": "line",
         "encoding": {"x": {"field": "t", "type": "quantitative", "scale": {"domain": [-0.6667, 6.8857], "nice": false, "zero": false}, "axis": null},
                      "y": {"field": "v", "type": "quantitative", "scale": {"domain": [-1681.25, 3331.25], "nice": false, "zero": false}, "axis": null},
                      "order": {"value": null}}},
        {"data": {"values": [{"label": "Hc"}]}, "mark": {"type": "text", "align": "left", "baseline": "middle", "fontSize": 22},
         "encoding": {"x": {"datum": -0.39, "type": "quantitative", "scale": {"domain": [-0.6667, 6.8857], "nice": false, "zero": false}, "axis": null},
                      "y": {"datum": -12, "type": "quantitative", "scale": {"domain": [-1681.25, 3331.25], "nice": false, "zero": false}, "axis": null},
                      "text": {"field": "label"}}}
      ]
    },
    {
      "layer": [
        {"data": {"name": "gyki100_cx"}, "mark": "line",
         "encoding": {"x": {"field": "t", "type": "quantitative", "scale": {"domain": [-0.6667, 6.8857], "nice": false, "zero": false}, "axis": null},
                      "y": {"field": "v", "type": "quantitative", "scale": {"domain": [-881.25, 4131.25], "nice": false, "zero": false}, "axis": null},
                      "order": {"value": null}}},
        {"data": {"values": [{"label": "GYKI-52466 (100 mg/kg)"}]}, "mark": {"type": "text", "align": "center", "baseline": "alphabetic", "fontSize": 29},
         "encoding": {"x": {"datum": 3.36, "type": "quantitative", "scale": {"domain": [-0.6667, 6.8857], "nice": false, "zero": false}, "axis": null},
                      "y": {"datum": 144, "type": "quantitative", "scale": {"domain": [-881.25, 4131.25], "nice": false, "zero": false}, "axis": null},
                      "text": {"field": "label"}}},
        {"data": {"values": [{"label": "Cx"}]}, "mark": {"type": "text", "align": "left", "baseline": "middle", "fontSize": 22},
         "encoding": {"x": {"datum": -0.41, "type": "quantitative", "scale": {"domain": [-0.6667, 6.8857], "nice": false, "zero": false}, "axis": null},
                      "y": {"datum": -6, "type": "quantitative", "scale": {"domain": [-881.25, 4131.25], "nice": false, "zero": false}, "axis": null},
                      "text": {"field": "label"}}}
      ]
    },
    {
      "layer": [
        {"data": {"name": "gyki100_hc"}, "mark": "line",
         "encoding": {"x": {"field": "t", "type": "quantitative", "scale": {"domain": [-0.6667, 6.8857], "nice": false, "zero": false}, "axis": null},
                      "y": {"field": "v", "type": "quantitative", "scale": {"domain": [-437.5, 4575], "nice": false, "zero": false}, "axis": null},
                      "order": {"value": null}}},
        {"data": {"values": [{"label": "Hc"}]}, "mark": {"type": "text", "align": "left", "baseline": "middle", "fontSize": 22},
         "encoding": {"x": {"datum": -0.39, "type": "quantitative", "scale": {"domain": [-0.6667, 6.8857], "nice": false, "zero": false}, "axis": null},
                      "y": {"datum": 0, "type": "quantitative", "scale": {"domain": [-437.5, 4575], "nice": false, "zero": false}, "axis": null},
                      "text": {"field": "label"}}},
        {"data": {"values": [{"bar": "amplitude"}]}, "mark": "rule",
         "encoding": {"x": {"datum": 0, "type": "quantitative", "scale": {"domain": [-0.6667, 6.8857], "nice": false, "zero": false}, "axis": null},
                      "y": {"datum": -275, "type": "quantitative", "scale": {"domain": [-437.5, 4575], "nice": false, "zero": false}, "axis": null},
                      "y2": {"datum": -175}}},
        {"data": {"values": [{"bar": "time"}]}, "mark": "rule",
         "encoding": {"x": {"datum": 0, "type": "quantitative", "scale": {"domain": [-0.6667, 6.8857], "nice": false, "zero": false}, "axis": null},
                      "x2": {"datum": 1},
                      "y": {"datum": -275, "type": "quantitative", "scale": {"domain": [-437.5, 4575], "nice": false, "zero": false}, "axis": null}}},
        {"data": {"values": [{"label": "100 µV"}]}, "mark": {"type": "text", "align": "left", "baseline": "alphabetic", "fontSize": 20},
         "encoding": {"x": {"datum": 0.08, "type": "quantitative", "scale": {"domain": [-0.6667, 6.8857], "nice": false, "zero": false}, "axis": null},
                      "y": {"datum": -237, "type": "quantitative", "scale": {"domain": [-437.5, 4575], "nice": false, "zero": false}, "axis": null},
                      "text": {"field": "label"}}},
        {"data": {"values": [{"label": "1 sec"}]}, "mark": {"type": "text", "align": "left", "baseline": "alphabetic", "fontSize": 20},
         "encoding": {"x": {"datum": 0.11, "type": "quantitative", "scale": {"domain": [-0.6667, 6.8857], "nice": false, "zero": false}, "axis": null},
                      "y": {"datum": -394, "type": "quantitative", "scale": {"domain": [-437.5, 4575], "nice": false, "zero": false}, "axis": null},
                      "text": {"field": "label"}}}
      ]
    }
  ],
  "resolve": {"scale": {"y": "independent"}}
}
